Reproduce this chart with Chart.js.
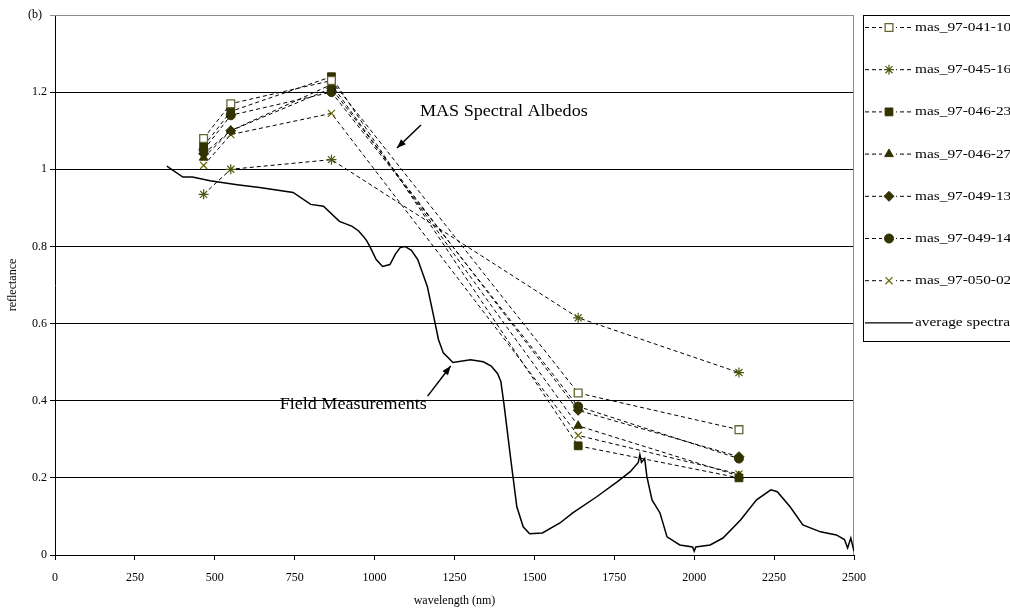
<!DOCTYPE html>
<html>
<head>
<meta charset="utf-8">
<script src="https://cdn.jsdelivr.net/npm/chart.js@4.4.1/dist/chart.umd.min.js"></script>
<style>
  html, body { margin: 0; padding: 0; background: #fff; }
  #wrap { width: 1010px; height: 611px; position: relative; }
</style>
</head>
<body>
<div id="wrap"><canvas id="c"></canvas></div>
<script>
// ---- data ----
const masWavelengths = [465, 550, 865, 1637, 2140];
const seriesNames = ['mas_97-041-10', 'mas_97-045-16', 'mas_97-046-23', 'mas_97-046-27',
                     'mas_97-049-13', 'mas_97-049-14', 'mas_97-050-02'];
const s041_10 = [1.08, 1.17, 1.23, 0.42, 0.325];
const s045_16 = [0.935, 1.0, 1.025, 0.615, 0.473];
const s046_23 = [1.06, 1.15, 1.24, 0.283, 0.2];
const s046_27 = [1.03, 1.10, 1.22, 0.335, 0.205];
const s049_13 = [1.04, 1.10, 1.21, 0.375, 0.255];
const s049_14 = [1.05, 1.14, 1.20, 0.385, 0.25];
const s050_02 = [1.01, 1.09, 1.145, 0.31, 0.21];
const averageName = 'average spectra';
const fieldWavelengths = [350, 400, 430, 485, 570, 640, 745, 800, 840, 890, 930, 950, 965, 975, 985,
  1005, 1025, 1048, 1065, 1080, 1095, 1115, 1135, 1165, 1185, 1200, 1215, 1245, 1300, 1340, 1365,
  1385, 1395, 1405, 1425, 1445, 1465, 1485, 1525, 1580, 1620, 1695, 1760, 1800, 1825, 1830, 1835,
  1845, 1852, 1868, 1893, 1915, 1955, 1995, 2000, 2005, 2050, 2090, 2145, 2195, 2240, 2260, 2300,
  2340, 2395, 2445, 2470, 2480, 2490, 2500];
const fieldReflectance = [1.008, 0.98, 0.98, 0.97, 0.96, 0.953, 0.94, 0.909, 0.904, 0.865, 0.852,
  0.84, 0.826, 0.815, 0.80, 0.766, 0.748, 0.753, 0.78, 0.797, 0.80, 0.79, 0.766, 0.696, 0.618,
  0.558, 0.524, 0.499, 0.506, 0.501, 0.49, 0.47, 0.45, 0.39, 0.255, 0.125, 0.073, 0.055, 0.057,
  0.083, 0.109, 0.151, 0.19, 0.216, 0.24, 0.26, 0.24, 0.25, 0.203, 0.143, 0.109, 0.047, 0.026,
  0.021, 0.01, 0.021, 0.026, 0.044, 0.091, 0.143, 0.169, 0.164, 0.125, 0.078, 0.06, 0.052, 0.04,
  0.018, 0.044, 0.01];
const xTickStep = 250;
const yTickStep = 0.2;
const panelLabel = '(b)';
const annotationTexts = ['MAS Spectral Albedos', 'Field Measurements'];

// ---- styles ----
const FONT = '"Liberation Serif", "DejaVu Serif", serif';
const DARK = '#333300';
const masSeriesValues = [s041_10, s045_16, s046_23, s046_27, s049_13, s049_14, s050_02];
const masStyles = [
  { pointStyle: 'rect', radius: 5.5, bg: '#ffffff', border: '#666633', bw: 1.3 },
  { pointStyle: 'star', radius: 5, bg: '#4a5a10', border: '#4a5a10', bw: 1.2 },
  { pointStyle: 'rect', radius: 5.5, bg: DARK, border: DARK, bw: 1 },
  { pointStyle: 'triangle', radius: 5, bg: DARK, border: DARK, bw: 1 },
  { pointStyle: 'rectRot', radius: 5, bg: DARK, border: DARK, bw: 1 },
  { pointStyle: 'circle', radius: 4.5, bg: DARK, border: DARK, bw: 1 },
  { pointStyle: 'crossRot', radius: 5, bg: '#666600', border: '#666600', bw: 1.2 }
];

const datasets = masSeriesValues.map((vals, i) => ({
  label: seriesNames[i],
  data: masWavelengths.map((w, j) => ({ x: w, y: vals[j] })),
  borderColor: '#000000',
  borderWidth: 1,
  borderDash: [4, 3],
  pointStyle: masStyles[i].pointStyle,
  pointRadius: masStyles[i].radius,
  pointBackgroundColor: masStyles[i].bg,
  pointBorderColor: masStyles[i].border,
  pointBorderWidth: masStyles[i].bw,
  tension: 0,
  order: 1
}));
datasets.push({
  label: averageName,
  data: fieldWavelengths.map((w, j) => ({ x: w, y: fieldReflectance[j] })),
  borderColor: '#000000',
  borderWidth: 1.5,
  pointRadius: 0,
  tension: 0,
  order: 2
});

// plot border (top & right, gray)
const borderPlugin = {
  id: 'plotBorder',
  beforeDatasetsDraw(chart) {
    const { ctx, chartArea: a } = chart;
    ctx.save();
    ctx.strokeStyle = '#8c8c8c';
    ctx.lineWidth = 1;
    ctx.beginPath();
    ctx.moveTo(a.left, a.top + 0.5);
    ctx.lineTo(a.right - 0.5, a.top + 0.5);
    ctx.lineTo(a.right - 0.5, a.bottom);
    ctx.stroke();
    ctx.restore();
  }
};

function arrow(ctx, x1, y1, x2, y2) {
  ctx.beginPath();
  ctx.moveTo(x1, y1);
  ctx.lineTo(x2, y2);
  ctx.stroke();
  const ang = Math.atan2(y2 - y1, x2 - x1);
  const L = 9, W = 3.5;
  ctx.beginPath();
  ctx.moveTo(x2, y2);
  ctx.lineTo(x2 - L * Math.cos(ang) + W * Math.sin(ang), y2 - L * Math.sin(ang) - W * Math.cos(ang));
  ctx.lineTo(x2 - L * Math.cos(ang) - W * Math.sin(ang), y2 - L * Math.sin(ang) + W * Math.cos(ang));
  ctx.closePath();
  ctx.fill();
}

function stretchedText(ctx, text, x, y, sx) {
  ctx.save();
  ctx.translate(x, y);
  ctx.scale(sx, 1);
  ctx.fillText(text, 0, 0);
  ctx.restore();
}

const annotationPlugin = {
  id: 'notes',
  afterDatasetsDraw(chart) {
    const { ctx, scales: { x, y } } = chart;
    ctx.save();
    ctx.fillStyle = '#000';
    ctx.strokeStyle = '#000';
    ctx.lineWidth = 1.5;
    ctx.font = '16px ' + FONT;
    ctx.textBaseline = 'middle';
    ctx.textAlign = 'left';
    stretchedText(ctx, annotationTexts[0], x.getPixelForValue(1142), y.getPixelForValue(1.148), 1.13);
    arrow(ctx, x.getPixelForValue(1145), y.getPixelForValue(1.115),
               x.getPixelForValue(1070), y.getPixelForValue(1.055));
    stretchedText(ctx, annotationTexts[1], x.getPixelForValue(703), y.getPixelForValue(0.39), 1.13);
    arrow(ctx, x.getPixelForValue(1166), y.getPixelForValue(0.412),
               x.getPixelForValue(1238), y.getPixelForValue(0.49));
    // panel label
    ctx.font = '12px ' + FONT;
    ctx.textAlign = 'right';
    ctx.fillText(panelLabel, x.left - 13, y.getPixelForValue(1.4));
    ctx.restore();
  }
};

const legendPlugin = {
  id: 'customLegend',
  afterDraw(chart) {
    const { ctx } = chart;
    const left = 863.5, top = 15.5, bottom = 341.5, right = 1030;
    ctx.save();
    ctx.strokeStyle = '#000';
    ctx.lineWidth = 1;
    ctx.strokeRect(left, top, right - left, bottom - top);
    const rowH = 42.2, firstY = 27.5;
    ctx.font = '13px ' + FONT;
    ctx.textBaseline = 'middle';
    ctx.textAlign = 'left';
    chart.data.datasets.forEach((ds, i) => {
      const yy = firstY + i * rowH;
      ctx.strokeStyle = '#000';
      ctx.lineWidth = i < masSeriesValues.length ? 1 : 1.3;
      ctx.setLineDash(i < masSeriesValues.length ? [4, 3] : []);
      ctx.beginPath();
      ctx.moveTo(865, yy);
      ctx.lineTo(913, yy);
      ctx.stroke();
      ctx.setLineDash([]);
      if (i < masSeriesValues.length) {
        const st = masStyles[i];
        ctx.fillStyle = '#fff';
        ctx.fillRect(882, yy - 6, 14, 12);
        ctx.fillStyle = st.bg;
        ctx.strokeStyle = st.border;
        ctx.lineWidth = st.bw;
        Chart.helpers.drawPoint(ctx, { pointStyle: st.pointStyle, radius: st.radius, rotation: 0, borderWidth: st.bw }, 889, yy);
      }
      ctx.fillStyle = '#000';
      stretchedText(ctx, ds.label, 915, yy, 1.18);
    });
    ctx.restore();
  }
};

new Chart(document.getElementById('c'), {
  type: 'line',
  data: { datasets },
  options: {
    responsive: true,
    maintainAspectRatio: false,
    animation: false,
    layout: { padding: { top: 15, right: 156, left: 0, bottom: 0 } },
    plugins: { legend: { display: false }, tooltip: { enabled: false } },
    scales: {
      x: {
        type: 'linear',
        min: 0, max: 2500,
        afterFit(s) { s.height = 56; },
        ticks: {
          stepSize: xTickStep, color: '#000', font: { family: FONT, size: 12 }, padding: 11, maxRotation: 0,
          callback: (v) => String(v)
        },
        grid: { drawOnChartArea: false, color: '#000', tickLength: 5 },
        border: { color: '#000', width: 1 },
        title: { display: true, text: 'wavelength (nm)', color: '#000', font: { family: FONT, size: 12 }, padding: { top: 0, bottom: 3 } }
      },
      y: {
        min: 0, max: 1.4,
        afterFit(s) { s.width = 55; },
        ticks: {
          stepSize: yTickStep, color: '#000', font: { family: FONT, size: 12 }, padding: 3,
          callback: (v) => (Math.abs(v - 1.4) < 1e-6 ? '' : Number(v.toFixed(1)).toString())
        },
        grid: {
          color: (c) => (c.tick && Math.abs(c.tick.value - 1.4) < 1e-6 ? '#8c8c8c' : '#000'),
          lineWidth: 1,
          tickLength: 5
        },
        border: { color: '#000', width: 1 },
        title: { display: true, text: 'reflectance', color: '#000', font: { family: FONT, size: 12 }, padding: { top: 6, bottom: 0 } }
      }
    }
  },
  plugins: [borderPlugin, annotationPlugin, legendPlugin]
});
</script>
</body>
</html>
